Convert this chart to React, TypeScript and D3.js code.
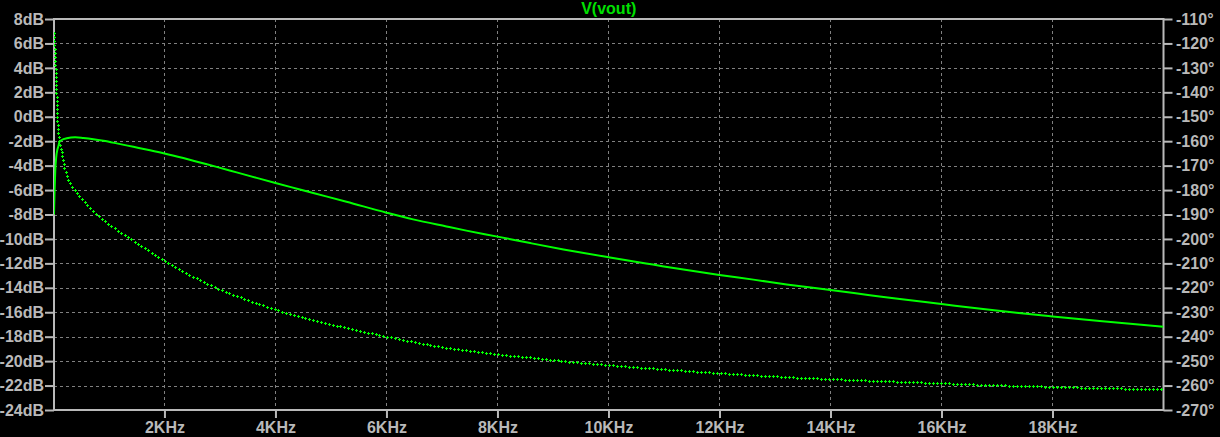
import { useEffect, useRef } from "react";
import * as d3 from "d3";

// magnitude trace (solid), frequency in kHz
const magFreq = [0.01, 0.02, 0.033, 0.05, 0.07, 0.09, 0.11, 0.15, 0.24, 0.39, 0.54, 0.72, 0.9, 1.14, 1.44, 1.74, 2.0, 2.34, 2.64, 2.94, 3.3, 3.66, 4.0, 4.44, 4.68, 5.28, 6.0, 6.48, 7.08, 7.44, 8.0, 8.59, 9.19, 10.0, 10.8, 11.41, 12.0, 12.61, 13.21, 14.0, 14.71, 15.25, 16.0, 16.75, 17.35, 18.0, 18.85, 20.0];
const magDb = [-8.0, -6.1, -4.4, -3.3, -2.7, -2.4, -2.05, -1.9, -1.76, -1.68, -1.74, -1.84, -1.97, -2.18, -2.46, -2.74, -3.0, -3.38, -3.74, -4.1, -4.55, -5.0, -5.42, -5.95, -6.24, -6.96, -7.85, -8.4, -8.98, -9.32, -9.81, -10.34, -10.86, -11.5, -12.1, -12.55, -12.95, -13.33, -13.72, -14.18, -14.6, -14.92, -15.33, -15.74, -16.04, -16.34, -16.72, -17.18];

// phase trace (markers), frequency in kHz
const phaseFreq = [0.01, 0.023, 0.033, 0.046, 0.051, 0.064, 0.07, 0.087, 0.105, 0.124, 0.16, 0.178, 0.214, 0.268, 0.34, 0.43, 0.538, 0.646, 0.754, 0.862, 1.0, 1.25, 1.5, 1.75, 2.0, 2.25, 2.5, 2.75, 3.0, 3.25, 3.5, 3.75, 4.0, 4.5, 5.0, 5.5, 6.0, 6.5, 7.0, 7.5, 8.0, 8.59, 9.19, 10.0, 10.81, 11.41, 12.0, 12.61, 13.21, 14.0, 14.71, 16.0, 16.75, 17.35, 18.0, 18.85, 20.0];
const phaseDeg = [-115.7, -123.9, -128, -134.1, -139, -144.4, -151, -156, -159.2, -162.5, -165.8, -169, -172.3, -175.6, -178.6, -181.4, -184.4, -187.1, -189.5, -191.6, -194.0, -197.9, -201.6, -205.3, -208.9, -212.2, -215.2, -218.0, -220.6, -222.9, -225.0, -227.0, -228.9, -232.1, -234.9, -237.5, -239.9, -242.2, -244.2, -245.8, -247.2, -248.5, -250.0, -251.6, -253.0, -254.0, -254.9, -255.7, -256.5, -257.3, -258.0, -259.0, -259.7, -260.1, -260.5, -261.0, -261.5];

const dbTicks = [8, 6, 4, 2, 0, -2, -4, -6, -8, -10, -12, -14, -16, -18, -20, -22, -24];
const degTicks = [-110, -120, -130, -140, -150, -160, -170, -180, -190, -200, -210, -220, -230, -240, -250, -260, -270];
const freqTicks = [2, 4, 6, 8, 10, 12, 14, 16, 18];

const AXIS = "#b9b9b9";
const GRID = "#808080";
const TRACE = "#00ff00";
const FONT = "'Liberation Sans', Arial, sans-serif";

export default function App() {
  const svgRef = useRef<SVGSVGElement>(null);

  useEffect(() => {
    if (!svgRef.current) return;
    const svg = d3.select(svgRef.current);
    svg.selectAll("*").remove();

    const left = 54, right = 1163.5, top = 19, bottom = 410;
    const x = d3.scaleLinear().domain([0.01, 20]).range([left, right]);
    const yDb = d3.scaleLinear().domain([-24, 8]).range([bottom, top]);
    const yPh = d3.scaleLinear().domain([-270, -110]).range([bottom, top]);

    svg.append("rect").attr("width", 1220).attr("height", 437).attr("fill", "#000");

    // grid
    const grid = svg.append("g").attr("stroke", GRID).attr("stroke-width", 1).attr("stroke-dasharray", "3,3");
    dbTicks.slice(1, -1).forEach((d) => {
      const y = Math.round(yDb(d)) + 0.5;
      grid.append("line").attr("x1", left).attr("x2", right).attr("y1", y).attr("y2", y);
    });
    freqTicks.forEach((f) => {
      const xx = Math.round(x(f)) + 0.5;
      grid.append("line").attr("x1", xx).attr("x2", xx).attr("y1", top).attr("y2", bottom);
    });

    // axes
    const styleAxis = (g: d3.Selection<SVGGElement, unknown, null, undefined>) => {
      g.select(".domain").remove();
      g.selectAll(".tick line").attr("stroke", AXIS).attr("stroke-width", 2);
      g.selectAll(".tick text").attr("fill", AXIS).attr("font-size", "16px")
        .attr("font-weight", "bold").attr("font-family", FONT);
    };
    svg.append("g").attr("transform", `translate(${left},0)`)
      .call(d3.axisLeft(yDb).tickValues(dbTicks).tickSize(9).tickPadding(1).tickFormat((d) => `${d}dB`))
      .call(styleAxis);
    svg.append("g").attr("transform", `translate(${right},0)`)
      .call(d3.axisRight(yPh).tickValues(degTicks).tickSize(9).tickPadding(3.5).tickFormat((d) => `${d}°`))
      .call(styleAxis);
    svg.append("g").attr("transform", `translate(0,${bottom})`)
      .call(d3.axisBottom(x).tickValues(freqTicks).tickSize(8).tickPadding(3.6).tickFormat((d) => `${d}KHz`))
      .call(styleAxis);

    // frame
    svg.append("rect").attr("x", left).attr("y", top).attr("width", right - left).attr("height", bottom - top)
      .attr("fill", "none").attr("stroke", AXIS).attr("stroke-width", 2);

    svg.append("text").attr("x", (left + right) / 2).attr("y", 14).attr("text-anchor", "middle")
      .attr("fill", "#00e000").attr("font-size", "16px").attr("font-weight", "bold")
      .attr("font-family", FONT).text("V(vout)");

    svg.append("clipPath").attr("id", "plot-clip").append("rect")
      .attr("x", left).attr("y", top).attr("width", right - left).attr("height", bottom - top);
    const plot = svg.append("g").attr("clip-path", "url(#plot-clip)");

    const magLine = d3.line<number>().x((_, i) => x(magFreq[i])).y((d) => yDb(d)).curve(d3.curveMonotoneX);
    plot.append("path").attr("d", magLine(magDb)).attr("fill", "none")
      .attr("stroke", TRACE).attr("stroke-width", 2);

    const phLine = d3.line<number>().x((_, i) => x(phaseFreq[i])).y((d) => yPh(d)).curve(d3.curveMonotoneX);
    const phPath = plot.append("path").attr("d", phLine(phaseDeg)).attr("fill", "none").attr("stroke", "none");
    const node = phPath.node() as SVGPathElement;
    const total = node.getTotalLength();
    const marks = plot.append("g").attr("stroke", TRACE).attr("stroke-width", 1).attr("shape-rendering", "crispEdges");
    for (let s = 0; s <= total; s += 4) {
      const p = node.getPointAtLength(s);
      const cx = Math.round(p.x) + 0.5, cy = Math.round(p.y) + 0.5;
      marks.append("path").attr("d", `M${cx - 1.5},${cy}H${cx + 1.5}M${cx},${cy - 1.5}V${cy + 1.5}`);
    }
  }, []);

  return (
    <svg ref={svgRef} width={1220} height={437}
      style={{ position: "absolute", left: 0, top: 0, display: "block", background: "#000" }} />
  );
}
